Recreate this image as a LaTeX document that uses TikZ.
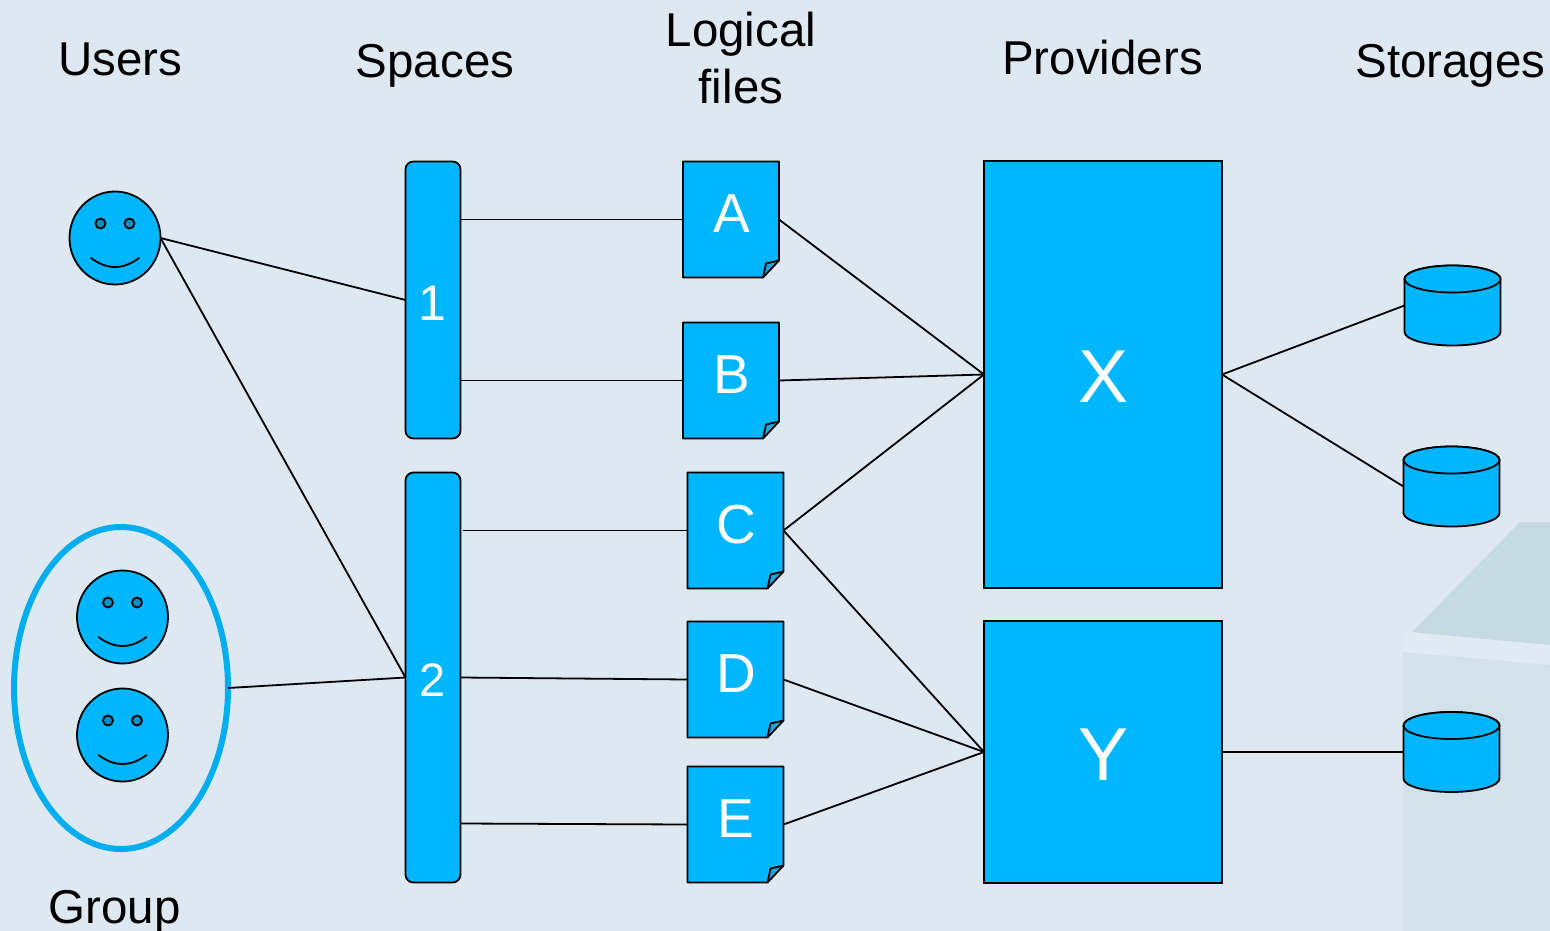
\documentclass[tikz,border=0pt]{standalone}
\usepackage{fontspec}
\setmainfont{Liberation Sans}
\usetikzlibrary{shapes.geometric,calc}
\definecolor{bgc}{HTML}{DEE8F1}
\definecolor{bluec}{HTML}{00B6FF}
\definecolor{eyec}{HTML}{0090C8}
\definecolor{foldc}{HTML}{1CA7DC}
\definecolor{ringc}{HTML}{00AEEF}
\definecolor{deco}{HTML}{C5DAE3}
\definecolor{decob}{HTML}{D3E1EB}
\definecolor{decol}{HTML}{E0EAF3}
\tikzset{
  x=1pt,y=-1pt,
  ln/.style={line width=1.8pt,black},
  box/.style={draw=black,line width=1.8pt,fill=bluec,inner sep=0pt,outer sep=0pt,rectangle},
  anchorbox/.style={inner sep=0pt,outer sep=0pt,rectangle},
  face/.style={draw=black,line width=1.8pt,fill=bluec,ellipse,inner sep=0pt,outer sep=0pt,minimum width=91pt,minimum height=93pt},
  ttl/.style={anchor=base,inner sep=0pt,font=\fontsize{47.5}{50}\selectfont,text=black},
  wht/.style={anchor=base,inner sep=0pt,text=white},
}
% name, x centre, y centre
\newcommand{\docnode}[4]{%
  \node[anchorbox,minimum width=96pt,minimum height=116pt] (#1) at (#2,#3) {};
  \fill[bluec] (#1.north west) -- (#1.north east) -- ($(#1.south east)+(0,-17)$) -- ($(#1.south east)+(-16,0)$) -- (#1.south west) -- cycle;
  \fill[foldc] ($(#1.south east)+(0,-17)$) -- ($(#1.south east)+(-13,-14)$) -- ($(#1.south east)+(-16,0)$) -- cycle;
  \draw[ln,line join=round] ($(#1.south east)+(0,-17)$) -- ($(#1.south east)+(-13,-14)$) -- ($(#1.south east)+(-16,0)$);
  \draw[ln,line join=round] (#1.north west) -- (#1.north east) -- ($(#1.south east)+(0,-17)$) -- ($(#1.south east)+(-16,0)$) -- (#1.south west) -- cycle;
  \node[wht,font=\fontsize{55}{58}\selectfont] (#1t) at ($(#1.center)+(0.5,13)$) {#4};
}
\newcommand{\cyl}[3]{%
  \node[anchorbox,minimum width=96pt,minimum height=80pt] (#1) at (#2,#3) {};
  \path[fill=bluec,draw=black,line width=1.8pt] ($(#1.north west)+(0,13.5)$) arc[start angle=180,end angle=360,x radius=48pt,y radius=-13.5pt] -- ($(#1.south east)+(0,-13.5)$) arc[start angle=0,end angle=180,x radius=48pt,y radius=-13.5pt] -- cycle;
  \draw[line width=1.8pt,fill=bluec] ($(#1.north)+(0,13.5)$) ellipse[x radius=48pt,y radius=13.5pt];
}
\newcommand{\smiley}[3]{%
  \node[face] (#1) at (#2,#3) {};
  \draw[line width=1.8pt,fill=eyec] ($(#1.center)+(-14.5,-14.5)$) circle[radius=5pt];
  \draw[line width=1.8pt,fill=eyec] ($(#1.center)+(14.5,-14.5)$) circle[radius=5pt];
  \draw[line width=1.8pt,line cap=round] ($(#1.center)+(-24,20)$) .. controls ($(#1.center)+(-8,32)$) and ($(#1.center)+(8,32)$) .. ($(#1.center)+(24,20)$);
}
\begin{document}
\begin{tikzpicture}
\useasboundingbox (0,0) rectangle (1550,931);
\fill[bgc] (0,0) rectangle (1550,931);
% decorative background
\fill[decol] (1403,632) -- (1550,645) -- (1550,931) -- (1403,931) -- cycle;
\fill[deco] (1412,632) -- (1520,522) -- (1550,522) -- (1550,645) -- cycle;
\fill[decob] (1403,652) -- (1550,665) -- (1550,931) -- (1403,931) -- cycle;

% titles
\node[ttl] (tusers) at (120.5,76) {Users};
\node[ttl] (tspaces) at (435,78) {Spaces};
\node[ttl] (tlog) at (741,47) {Logical};
\node[ttl] (tfiles) at (741,104) {files};
\node[ttl] (tprov) at (1102.5,75) {Providers};
\node[ttl] (tstor) at (1450.5,78) {Storages};
\node[ttl] (tgroup) at (114.5,923) {Group};

% users
\smiley{u1}{115}{238}
\smiley{u2}{122.5}{617}
\smiley{u3}{122.5}{735}
\node[ellipse,draw=ringc,line width=6pt,inner sep=0pt,outer sep=0pt,minimum width=214pt,minimum height=322pt] (grp) at (121,688) {};

% spaces
\node[box,rounded corners=8pt,minimum width=55pt,minimum height=277pt] (s1) at (433,300) {};
\node[box,rounded corners=8pt,minimum width=55pt,minimum height=410pt] (s2) at (433,677.5) {};
\node[wht,font=\fontsize{50}{52}\selectfont] (s1t) at (432.5,320) {1};
\node[wht,font=\fontsize{47}{49}\selectfont] (s2t) at (433,696) {2};

% logical files
\docnode{a}{731}{219.5}{A}
\docnode{b}{731}{380.5}{B}
\docnode{c}{735.5}{530.5}{C}
\docnode{d}{735.5}{679.5}{D}
\docnode{e}{735.5}{824.5}{E}

% providers
\node[box,minimum width=238pt,minimum height=427pt] (x) at (1103,374.5) {};
\node[box,minimum width=238pt,minimum height=262pt] (y) at (1103,752) {};
\node[wht,font=\fontsize{75}{78}\selectfont] (xt) at (1103.5,402) {X};
\node[wht,font=\fontsize{75}{78}\selectfont] (yt) at (1103.5,780) {Y};

% storages
\cyl{st1}{1452.5}{305.5}
\cyl{st2}{1451.5}{486.5}
\cyl{st3}{1451.5}{752}

% connectors
\draw[ln] (u1.east) -- (s1.west);
\draw[ln] (u1.east) -- (s2.west);
\draw[ln] (grp.east) -- (s2.west);
\draw[ln] (s1.east |- a.west) -- (a.west);
\draw[ln] (s1.east |- b.west) -- (b.west);
\draw[ln] ($(s2.east |- c.west)+(2,0)$) -- (c.west);
\draw[ln] ($(s2.east |- d.west)+(0,-2)$) -- (d.west);
\draw[ln] ($(s2.east |- e.west)+(0,-1)$) -- (e.west);
\draw[ln] (a.east) -- (x.west);
\draw[ln] (b.east) -- (x.west);
\draw[ln] (c.east) -- (x.west);
\draw[ln] (c.east) -- (y.west);
\draw[ln] (d.east) -- (y.west);
\draw[ln] (e.east) -- (y.west);
\draw[ln] (x.east) -- (st1.west);
\draw[ln] (x.east) -- (st2.west);
\draw[ln] (y.east) -- (st3.west);
\end{tikzpicture}
\end{document}
